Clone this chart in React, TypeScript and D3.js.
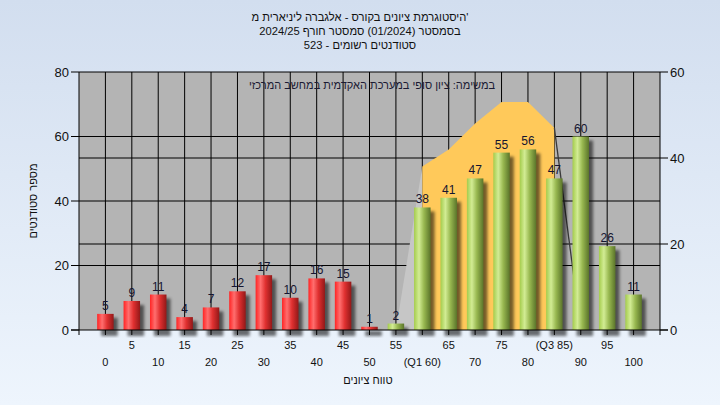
import React from "react";
import * as d3 from "d3";

const categories = ["0","5","10","15","20","25","30","35","40","45","50","55","(Q1 60)","65","70","75","80","(Q3 85)","90","95","100"];
const counts = [5,9,11,4,7,12,17,10,16,15,1,2,38,41,47,55,56,47,60,26,11];
const areaStart = 11;
const areaValues = [0,38,42,48,53,53,47,0];
const leftTicks = [0,20,40,60,80];
const rightTicks = [0,20,40,60];
const titleLines = [
  "היסטוגרמת ציונים בקורס - אלגברה ליניארית מ'",
  "בסמסטר  (01/2024)  סמסטר חורף  2024/25",
  "סטודנטים רשומים - 523",
];
const legendText = "במשימה: ציון סופי במערכת האקדמית במחשב המרכזי";
const yTitle = "מספר סטודנטים";
const xTitle = "טווח ציונים";

const W = 720, H = 405;
const L = 79, R = 660, T = 72, B = 330;
const FONT = "'Liberation Sans', Arial, sans-serif";

export default function App() {
  const x = d3.scaleLinear().domain([-1, categories.length]).range([L, R]);
  const yL = d3.scaleLinear().domain([0, 80]).range([B, T]);
  const yR = d3.scaleLinear().domain([0, 60]).range([B, T]);
  const bw = 16.5;

  const pts: [number, number][] = areaValues.map((v, k) => [x(areaStart + k), yR(v)]);
  const iqrArea = d3.area<[number, number]>().x(d => d[0]).y0(B).y1(d => d[1]);
  const orangePts = pts.slice(1, pts.length - 1);
  const leftTri = pts.slice(0, 2);
  const rightLine = d3.line()(pts.slice(pts.length - 2) as [number, number][]);

  return (
    <svg width={W} height={H} style={{ position: "absolute", left: 0, top: 0 }} fontFamily={FONT}>
      <defs>
        <linearGradient id="bg" x1="0" y1="0" x2="0" y2="1">
          <stop offset="0" stopColor="#d2deef" />
          <stop offset="1" stopColor="#eef5fd" />
        </linearGradient>
        <linearGradient id="red" x1="0" y1="0" x2="1" y2="0">
          <stop offset="0" stopColor="#ff2424" />
          <stop offset="0.3" stopColor="#ff6e6e" />
          <stop offset="0.6" stopColor="#e03030" />
          <stop offset="1" stopColor="#921818" />
        </linearGradient>
        <linearGradient id="green" x1="0" y1="0" x2="1" y2="0">
          <stop offset="0" stopColor="#a4cc4c" />
          <stop offset="0.3" stopColor="#d2ec94" />
          <stop offset="0.6" stopColor="#98b850" />
          <stop offset="1" stopColor="#5a742a" />
        </linearGradient>
        <filter id="blur" x="-50%" y="-50%" width="200%" height="200%">
          <feGaussianBlur stdDeviation="1.6" />
        </filter>
        <clipPath id="shadowClip">
          <rect x={L} y={T} width={R - L} height={B - T + 8} />
        </clipPath>
      </defs>
      <rect x={0} y={0} width={W} height={H} fill="url(#bg)" />

      {/* plot area */}
      <rect x={L} y={T} width={R - L} height={B - T} fill="#b4b4b4" />
      {leftTicks.slice(1, -1).map(t => (
        <line key={"gl" + t} x1={L} x2={R} y1={yL(t)} y2={yL(t)} stroke="#000" strokeWidth={1} />
      ))}
      {rightTicks.slice(1, -1).map(t => (
        <line key={"gr" + t} x1={L} x2={R} y1={yR(t)} y2={yR(t)} stroke="#000" strokeWidth={1} />
      ))}
      {categories.map((c, i) => (
        <line key={"gv" + i} x1={x(i)} x2={x(i)} y1={T} y2={B} stroke="#000" strokeWidth={1} />
      ))}
      <line x1={L} x2={R} y1={T} y2={T} stroke="#000" />

      {/* IQR area */}
      <path d={iqrArea(leftTri) || ""} fill="#c6c6c6" />
      <path d={iqrArea(orangePts) || ""} fill="#ffc95a" />
      <path d={rightLine || ""} fill="none" stroke="#3a3a3a" strokeWidth={1.3} />

      {/* legend text */}
      <text x={372} y={89} textAnchor="middle" fontSize={11} fill="#1a1a33">{legendText}</text>

      {/* bar shadows */}
      <g clipPath="url(#shadowClip)">
        {counts.map((v, i) => (
          <rect key={"s" + i} x={x(i) - bw / 2 + 4} y={yL(v) + 4} width={bw} height={B - yL(v) + 2}
            fill="#000" opacity={0.55} filter="url(#blur)" />
        ))}
      </g>
      {/* bars */}
      {counts.map((v, i) => (
        <rect key={"b" + i} x={x(i) - bw / 2} y={yL(v)} width={bw} height={B - yL(v)}
          fill={i <= 10 ? "url(#red)" : "url(#green)"} />
      ))}
      {counts.map((v, i) => (
        <text key={"l" + i} x={x(i)} y={yL(v) - 4} textAnchor="middle" fontSize={12} fill="#141430">{v}</text>
      ))}

      {/* axes */}
      <line x1={L} x2={L} y1={T} y2={B + 5} stroke="#000" />
      <line x1={R} x2={R} y1={T} y2={B + 5} stroke="#000" />
      <line x1={L - 8} x2={R + 8} y1={B} y2={B} stroke="#000" />
      {leftTicks.map(t => (
        <g key={"lt" + t}>
          <line x1={L - 8} x2={L} y1={yL(t)} y2={yL(t)} stroke="#000" />
          <text x={L - 10} y={yL(t) + 4.5} textAnchor="end" fontSize={13} fill="#111">{t}</text>
        </g>
      ))}
      {rightTicks.map(t => (
        <g key={"rt" + t}>
          <line x1={R} x2={R + 8} y1={yR(t)} y2={yR(t)} stroke="#000" />
          <text x={R + 10} y={yR(t) + 4.5} textAnchor="start" fontSize={13} fill="#111">{t}</text>
        </g>
      ))}
      {categories.map((c, i) => (
        <g key={"xt" + i}>
          <line x1={x(i)} x2={x(i)} y1={B} y2={B + 5} stroke="#000" />
          <text x={x(i)} y={i % 2 === 1 ? 349 : 366} textAnchor="middle" fontSize={11} fill="#111">{c}</text>
        </g>
      ))}

      {/* titles */}
      {titleLines.map((t, k) => (
        <text key={"t" + k} x={360} y={21 + k * 14} textAnchor="middle" fontSize={11.2} fill="#111">{t}</text>
      ))}
      <text transform={`translate(37,201) rotate(-90)`} textAnchor="middle" fontSize={11} fill="#111">{yTitle}</text>
      <text x={368} y={384} textAnchor="middle" fontSize={11} fill="#111">{xTitle}</text>
    </svg>
  );
}
